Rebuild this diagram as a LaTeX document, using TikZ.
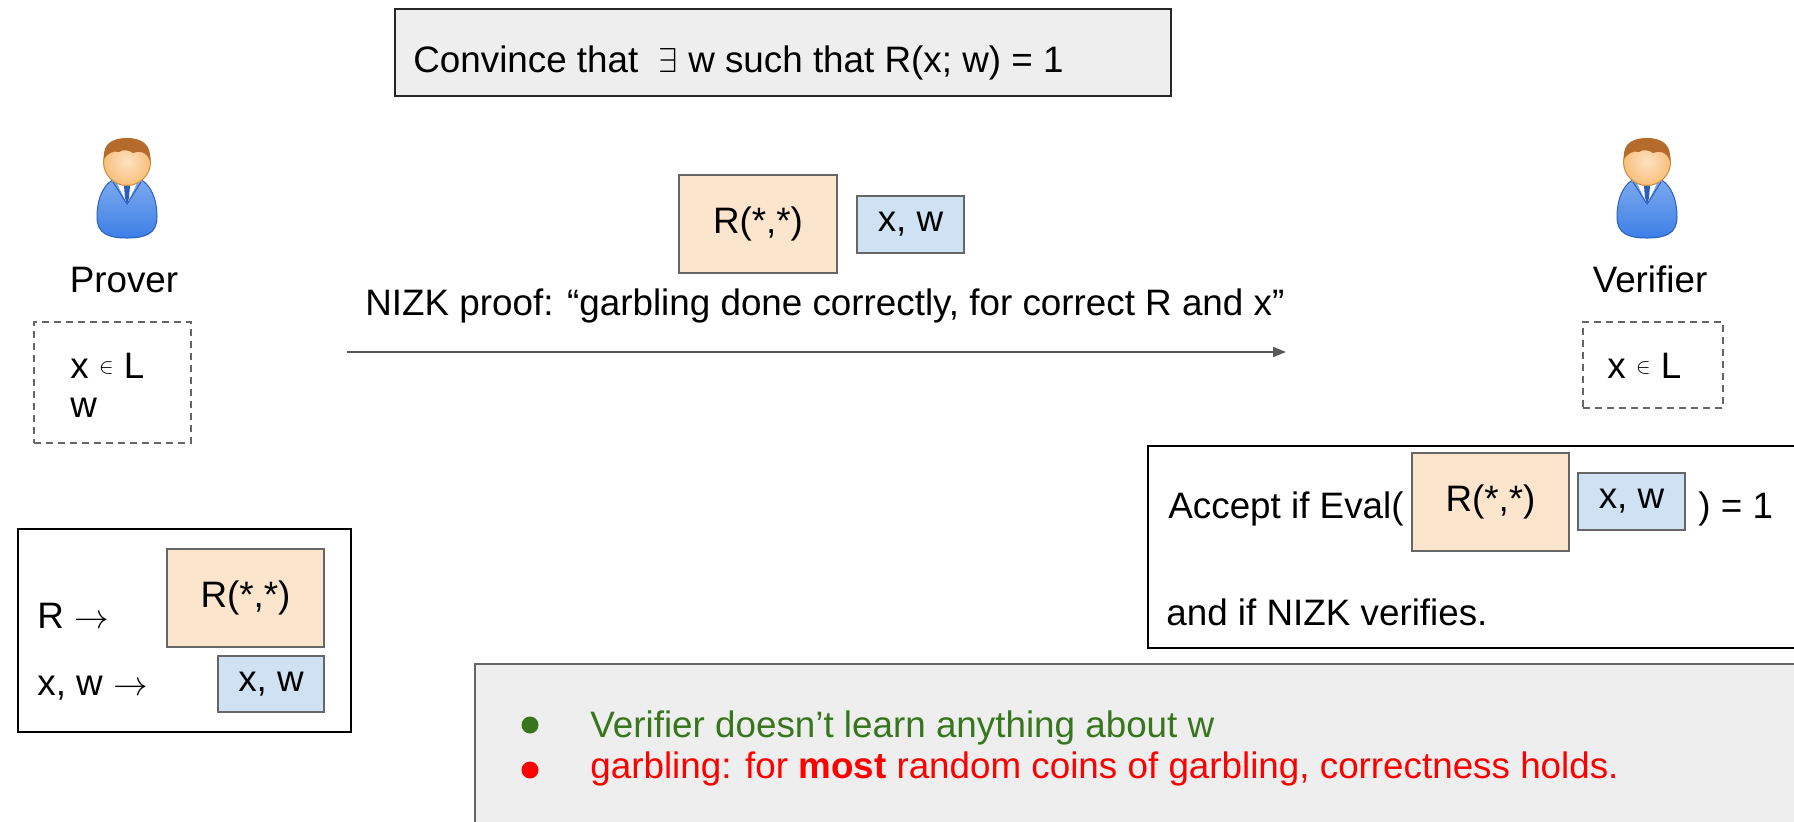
\documentclass[tikz,border=0pt]{standalone}
\usepackage{fontspec}
\setmainfont{Liberation Sans}
\usepackage{tikz}
\usetikzlibrary{arrows.meta}
\usetikzlibrary{fit}

\definecolor{peach}{HTML}{FCE5CD}
\definecolor{paleblue}{HTML}{CFE2F3}
\definecolor{panel}{HTML}{EEEEEE}
\definecolor{rim}{HTML}{666666}
\definecolor{okgreen}{HTML}{38761D}
\definecolor{skin}{HTML}{F9BF7A}
\definecolor{skinrim}{HTML}{C98A46}
\definecolor{hair}{HTML}{B56B2C}
\definecolor{suit}{HTML}{3C7FE6}
\definecolor{suitrim}{HTML}{2B5FBF}

% small raised membership sign
\newcommand{\isin}{\raisebox{2.5pt}{\fontsize{11}{11}\selectfont$\in$}}

\tikzset{
  person/.pic={
    % body
    \shadedraw[top color=suit!65!white, bottom color=suit, draw=suitrim, line width=0.5pt]
      (0,14) .. controls (20,14) and (30,32) .. (30,55)
      .. controls (30,72) and (18,76) .. (0,76)
      .. controls (-18,76) and (-30,72) .. (-30,55)
      .. controls (-30,32) and (-20,14) .. (0,14) -- cycle;
    % collar and tie
    \fill[white] (-11,19) -- (11,19) -- (0,42) -- cycle;
    \draw[suitrim, line width=0.5pt] (-14,20) -- (0,42) -- (14,20);
    \fill[suitrim] (-3,24) -- (3,24) -- (2,36) -- (0,42) -- (-2,36) -- cycle;
    % head
    \shadedraw[inner color=skin!45!white, outer color=skin, draw=skinrim, line width=0.5pt] (0,0) circle (23.5);
    % hair
    \fill[hair] (-23,-3) .. controls (-25,-20) and (-12,-24) .. (0,-24)
      .. controls (14,-24) and (25,-18) .. (23,-1)
      .. controls (20,-10) and (12,-12) .. (6,-9)
      .. controls (2,-12) and (-4,-13) .. (-8,-10)
      .. controls (-14,-12) and (-20,-8) .. (-23,-3) -- cycle;
  }
}

\begin{document}
\begin{tikzpicture}[x=0.5pt, y=-0.5pt,
    every node/.style={inner sep=0pt, font=\fontsize{18.4}{22}\selectfont},
    claimbox/.style={draw=black!85, fill=panel, line width=0.75pt},
    frame/.style={draw=black, line width=1pt},
    known/.style={draw=rim, dash pattern=on 3.5pt off 2.5pt, line width=0.75pt},
    garbled/.style={draw=rim, fill=peach, line width=0.75pt, label=center:{R(*,*)}},
    encoded/.style={draw=rim, fill=paleblue, line width=0.75pt, label=center:{x, w}},
    notes/.style={draw=rim, fill=panel, line width=0.75pt},
    dot/.style={circle, minimum size=8.5pt},
    msg/.style={-{Triangle[length=6.5pt, width=5pt]}, draw=black!65, line width=1pt}]
    \clip (0,0) rectangle (1794,821);

    % Statement
    \node[claimbox, fit={(395,9) (1171,96)}] (claim) {};
    \node[anchor=base west] (claimtext) at (413,72) {Convince that \ $\exists$ w such that R(x; w) = 1};

    % Prover
    \pic at (127,162) {person};
    \node[anchor=base] (prover) at (124,292) {Prover};
    \node[known, fit={(34,322) (191,443)}] (pknow) {};
    \node[anchor=base west] (px) at (70,378) {x \isin{} L};
    \node[anchor=base west] (pw) at (70,417) {w};

    % Verifier
    \pic at (1647,162) {person};
    \node[anchor=base] (verifier) at (1650,292) {Verifier};
    \node[known, fit={(1583,322) (1723,408)}] (vknow) {};
    \node[anchor=base west] (vx) at (1607,378) {x \isin{} L};

    % Message
    \node[garbled, fit={(679,175) (837,273)}] (gc) {};
    \node[encoded, fit={(857,196) (964,253)}] (ex) {};
    \node[anchor=base west] (nizk) at (365,315) {NIZK proof: “garbling done correctly, for correct R and x”};
    \coordinate (send) at (347,352);
    \coordinate (recv) at (1286,352);
    \draw[msg] (send) -- (recv);

    % Garbling
    \node[frame, fit={(18,529) (351,732)}] (garble) {};
    \node[anchor=base west] (rin) at (37,628) {R $\rightarrow$};
    \node[garbled, fit={(167,549) (324,647)}] (gcout) {};
    \node[anchor=base west] (xin) at (37,695) {x, w $\rightarrow$};
    \node[encoded, fit={(218,656) (324,712)}] (exout) {};

    % Check
    \node[frame, line width=0.75pt, fit={(1148,446) (1810,648)}] (check) {};
    \node[anchor=base west] (eval) at (1168,518) {Accept if Eval(};
    \node[garbled, fit={(1412,453) (1569,551)}] (gcin) {};
    \node[encoded, fit={(1578,473) (1685,530)}] (exin) {};
    \node[anchor=base west] (evalend) at (1698,518) {) = 1};
    \node[anchor=base west] (andnizk) at (1166,625) {and if NIZK verifies.};

    % Notes
    \node[notes, fit={(475,664) (1810,840)}] (notes) {};
    \node[dot, fill=okgreen] (b1) at (530,725) {};
    \node[anchor=base west, text=okgreen] (zk) at (590,737) {Verifier doesn’t learn anything about w};
    \node[dot, fill=red] (b2) at (530,770) {};
    \node[anchor=base west, text=red] (sound) at (590,778) {garbling: for \textbf{most} random coins of garbling, correctness holds.};
\end{tikzpicture}
\end{document}
